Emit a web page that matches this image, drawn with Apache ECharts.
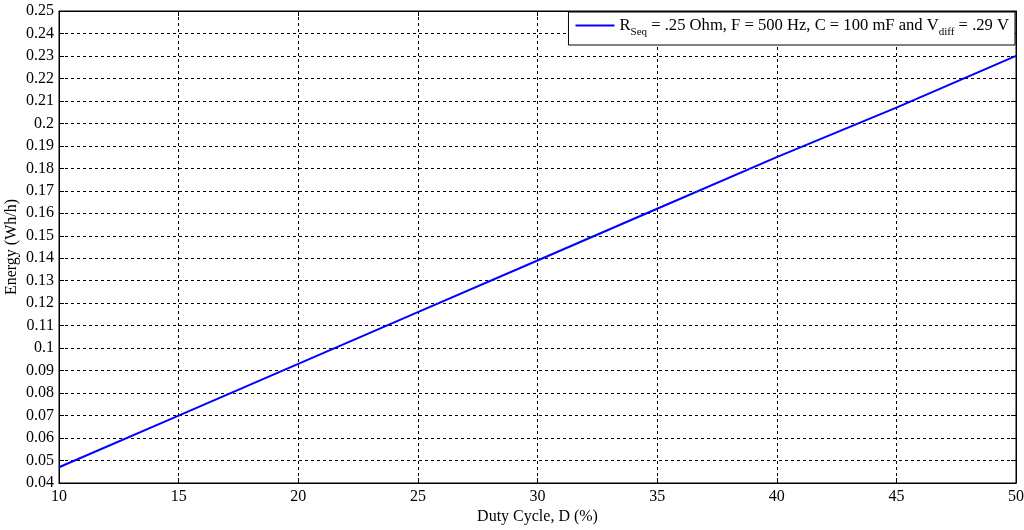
<!DOCTYPE html>
<html><head><meta charset="utf-8">
<script src="https://cdn.jsdelivr.net/npm/echarts@6/dist/echarts.min.js"></script>
<style>html,body{margin:0;padding:0;background:#fff}#c{width:1024px;height:530px}</style>
</head><body><div id="c"></div>
<script>
const dutyCycle = [10, 15, 20, 25, 30, 35, 40, 45, 50];
const energy = [0.047, 0.070, 0.093, 0.116, 0.139, 0.162, 0.185, 0.207, 0.230];
const seriesName = 'legend1';
const FONT = 'Liberation Serif';
const chart = echarts.init(document.getElementById('c'));
const grid = {left: 59, right: 8, top: 11, bottom: 47};
chart.setOption({
  animation: false,
  backgroundColor: '#fff',
  grid: Object.assign({show: true, borderColor: '#000', borderWidth: 1, backgroundColor: '#fff',
    containLabel: false, outerBoundsMode: 'none'}, grid),
  legend: {
    right: 9, top: 12, orient: 'horizontal',
    backgroundColor: '#fff', borderColor: '#000', borderWidth: 1,
    padding: [5, 6, 7, 7],
    itemWidth: 39, itemHeight: 2, itemGap: 0,
    icon: 'rect',
    data: [seriesName],
    formatter: function () {
      return 'R{sub|Seq}{t| = .25 Ohm, F = 500 Hz, C = 100 mF and V}{sub|diff}{t| = .29 V}';
    },
    textStyle: {
      fontFamily: FONT, fontSize: 16.6, color: '#000',
      rich: {
        t: {fontFamily: FONT, fontSize: 16.6, color: '#000'},
        sub: {fontFamily: FONT, fontSize: 11, color: '#000', verticalAlign: 'bottom', padding: [14, 0, 0, 0]}
      }
    }
  },
  xAxis: [{
    type: 'value', min: 10, max: 50, interval: 5,
    name: 'Duty Cycle, D (%)', nameLocation: 'middle', nameGap: 26, nameMoveOverlap: false,
    nameTextStyle: {fontFamily: FONT, fontSize: 16, color: '#000'},
    axisLine: {show: true, lineStyle: {color: '#000'}},
    axisTick: {show: true, inside: true, length: 5, lineStyle: {color: '#000'}},
    axisLabel: {fontFamily: FONT, fontSize: 16, color: '#000', margin: 6},
    splitLine: {show: true, lineStyle: {color: '#000', type: [3, 3], width: 1}}
  }, {
    type: 'value', min: 10, max: 50, interval: 5, position: 'top',
    axisLine: {show: true, lineStyle: {color: '#000'}},
    axisTick: {show: true, inside: true, length: 5, lineStyle: {color: '#000'}},
    axisLabel: {show: false}, splitLine: {show: false}
  }],
  yAxis: [{
    type: 'value', min: 0.04, max: 0.25, interval: 0.01,
    name: 'Energy (Wh/h)', nameLocation: 'middle', nameGap: 39, nameMoveOverlap: false,
    nameTextStyle: {fontFamily: FONT, fontSize: 16, color: '#000'},
    axisLine: {show: true, lineStyle: {color: '#000'}},
    axisTick: {show: true, inside: true, length: 5, lineStyle: {color: '#000'}},
    axisLabel: {fontFamily: FONT, fontSize: 16, color: '#000', margin: 5,
      formatter: v => String(+v.toFixed(2))},
    splitLine: {show: true, lineStyle: {color: '#000', type: [3, 3], width: 1}}
  }, {
    type: 'value', min: 0.04, max: 0.25, interval: 0.01, position: 'right',
    axisLine: {show: true, lineStyle: {color: '#000'}},
    axisTick: {show: true, inside: true, length: 5, lineStyle: {color: '#000'}},
    axisLabel: {show: false}, splitLine: {show: false}
  }],
  series: [{
    name: seriesName, type: 'line', showSymbol: false, symbol: 'none',
    data: dutyCycle.map((d, i) => [d, energy[i]]),
    lineStyle: {color: '#0000ff', width: 2},
    itemStyle: {color: '#0000ff'}
  }]
});
</script></body></html>
